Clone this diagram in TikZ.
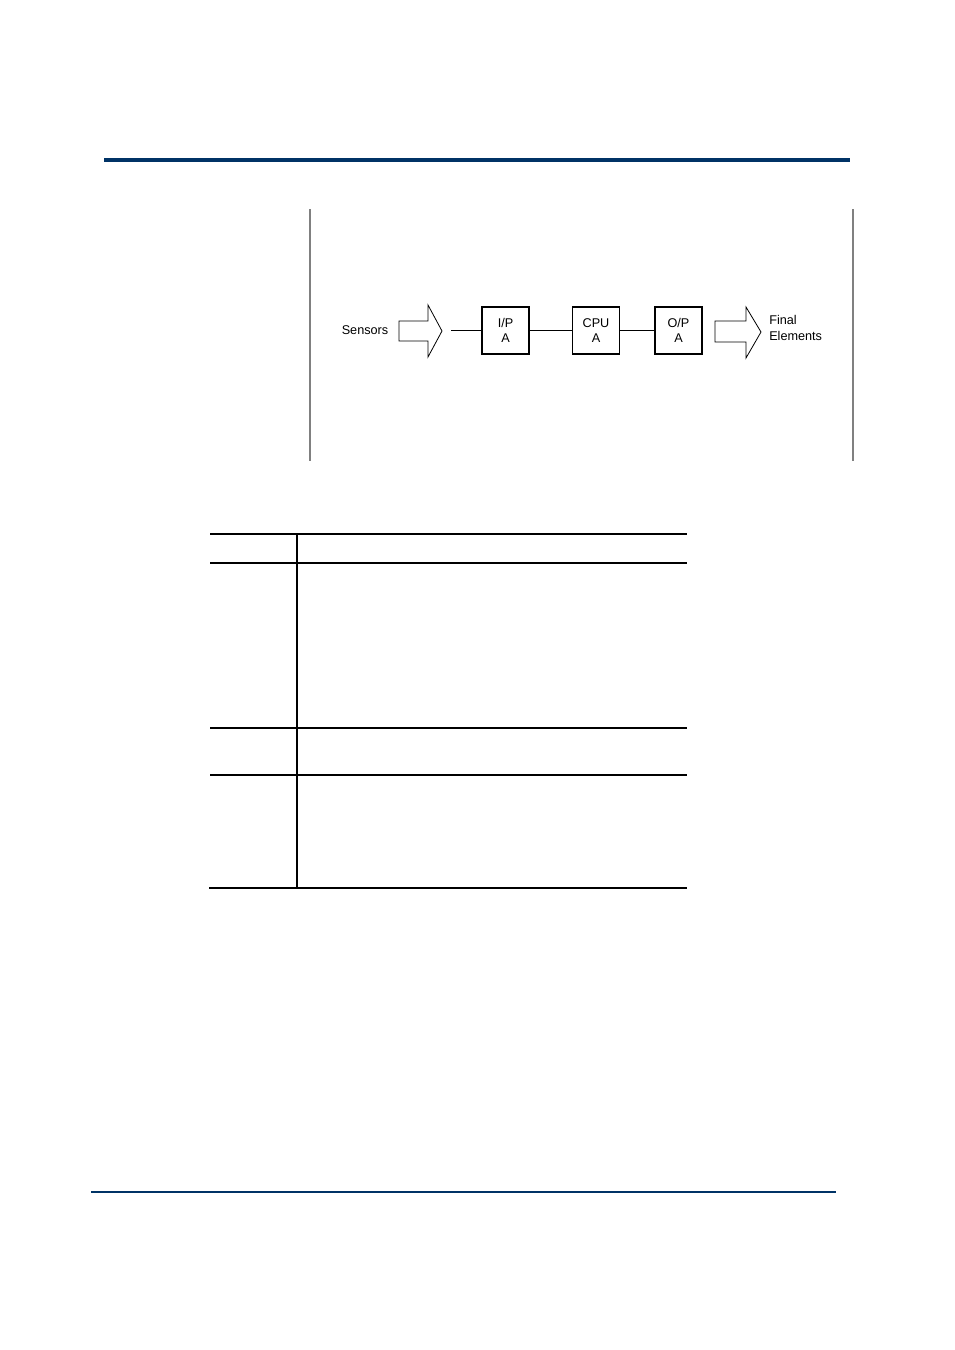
\documentclass[tikz,border=0pt]{standalone}
\usepackage{fontspec}
\setmainfont{Liberation Sans}
\definecolor{rule}{HTML}{003366}
\definecolor{frame}{HTML}{808080}
\begin{document}
\begin{tikzpicture}[x=0.75pt,y=-0.75pt,
  blk/.style={draw,line width=0.9pt,minimum width=47*0.75pt,minimum height=47*0.75pt,inner sep=0pt,align=center,font=\fontsize{9.5}{11.5}\selectfont},
  lbl/.style={font=\fontsize{9.5}{11.5}\selectfont,inner sep=0pt},
  fat/.style={draw,line width=0.6pt,fill=white},
  tab/.style={line width=0.9pt,black}]
\useasboundingbox (0,0) rectangle (955,1350);
\fill[white] (0,0) rectangle (955,1350);
% header/footer rules
\draw[rule,line width=2.4pt] (104,160) -- (850,160);
\draw[rule,line width=1.6pt] (91,1192) -- (836,1192);
% frame sides
\draw[frame,line width=0.9pt] (310,209) -- (310,461);
\draw[frame,line width=0.9pt] (853,209) -- (853,461);
% arrows
\draw[fat] (399,321) -- (428,321) -- (428,305) -- (442,331) -- (428,357) -- (428,341) -- (399,341) -- cycle;
\draw[fat] (715,321) -- (746,321) -- (746,307) -- (761,332) -- (746,358) -- (746,342) -- (715,342) -- cycle;
\node[lbl] (sens) at (365,330) {Sensors};
\node[lbl,anchor=west,align=left] (fin) at (769,328) {Final\\Elements};
% blocks
\node[blk] (ip) at (505.5,330.5) {I/P\\A};
\node[blk] (cpu) at (596,330.5) {CPU\\A};
\node[blk] (op) at (678.5,330.5) {O/P\\A};
\coordinate (in) at (451,330.5);
\draw[line width=0.9pt] (in) -- (ip.west);
\draw[line width=0.9pt] (ip.east) -- (cpu.west);
\draw[line width=0.9pt] (cpu.east) -- (op.west);
% table
\draw[tab] (210,534) -- (687,534);
\draw[tab] (210,563) -- (687,563);
\draw[tab] (210,728) -- (687,728);
\draw[tab] (210,775) -- (687,775);
\draw[tab] (209,888) -- (687,888);
\draw[tab] (297,534) -- (297,888);
\end{tikzpicture}
\end{document}
